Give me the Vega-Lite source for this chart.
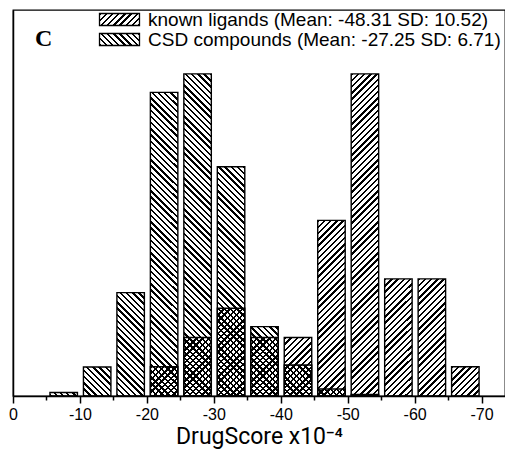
{
  "$schema": "https://vega.github.io/schema/vega-lite/v6.json",
  "autosize": {"type": "none"},
  "padding": {"left": 13, "top": 10, "right": 0, "bottom": 56},
  "width": 492,
  "height": 386,
  "params": [
    {"name": "hs", "value": [
{"offset":0,"color":"#000"},{"offset":0.00645,"color":"#000"},{"offset":0.00645,"color":"transparent"},{"offset":0.01667,"color":"transparent"},
{"offset":0.01667,"color":"#000"},{"offset":0.02312,"color":"#000"},{"offset":0.02312,"color":"transparent"},{"offset":0.03333,"color":"transparent"},
{"offset":0.03333,"color":"#000"},{"offset":0.03978,"color":"#000"},{"offset":0.03978,"color":"transparent"},{"offset":0.05,"color":"transparent"},
{"offset":0.05,"color":"#000"},{"offset":0.05645,"color":"#000"},{"offset":0.05645,"color":"transparent"},{"offset":0.06667,"color":"transparent"},
{"offset":0.06667,"color":"#000"},{"offset":0.07312,"color":"#000"},{"offset":0.07312,"color":"transparent"},{"offset":0.08333,"color":"transparent"},
{"offset":0.08333,"color":"#000"},{"offset":0.08978,"color":"#000"},{"offset":0.08978,"color":"transparent"},{"offset":0.1,"color":"transparent"},
{"offset":0.1,"color":"#000"},{"offset":0.10645,"color":"#000"},{"offset":0.10645,"color":"transparent"},{"offset":0.11667,"color":"transparent"},
{"offset":0.11667,"color":"#000"},{"offset":0.12312,"color":"#000"},{"offset":0.12312,"color":"transparent"},{"offset":0.13333,"color":"transparent"},
{"offset":0.13333,"color":"#000"},{"offset":0.13978,"color":"#000"},{"offset":0.13978,"color":"transparent"},{"offset":0.15,"color":"transparent"},
{"offset":0.15,"color":"#000"},{"offset":0.15645,"color":"#000"},{"offset":0.15645,"color":"transparent"},{"offset":0.16667,"color":"transparent"},
{"offset":0.16667,"color":"#000"},{"offset":0.17312,"color":"#000"},{"offset":0.17312,"color":"transparent"},{"offset":0.18333,"color":"transparent"},
{"offset":0.18333,"color":"#000"},{"offset":0.18978,"color":"#000"},{"offset":0.18978,"color":"transparent"},{"offset":0.2,"color":"transparent"},
{"offset":0.2,"color":"#000"},{"offset":0.20645,"color":"#000"},{"offset":0.20645,"color":"transparent"},{"offset":0.21667,"color":"transparent"},
{"offset":0.21667,"color":"#000"},{"offset":0.22312,"color":"#000"},{"offset":0.22312,"color":"transparent"},{"offset":0.23333,"color":"transparent"},
{"offset":0.23333,"color":"#000"},{"offset":0.23978,"color":"#000"},{"offset":0.23978,"color":"transparent"},{"offset":0.25,"color":"transparent"},
{"offset":0.25,"color":"#000"},{"offset":0.25645,"color":"#000"},{"offset":0.25645,"color":"transparent"},{"offset":0.26667,"color":"transparent"},
{"offset":0.26667,"color":"#000"},{"offset":0.27312,"color":"#000"},{"offset":0.27312,"color":"transparent"},{"offset":0.28333,"color":"transparent"},
{"offset":0.28333,"color":"#000"},{"offset":0.28978,"color":"#000"},{"offset":0.28978,"color":"transparent"},{"offset":0.3,"color":"transparent"},
{"offset":0.3,"color":"#000"},{"offset":0.30645,"color":"#000"},{"offset":0.30645,"color":"transparent"},{"offset":0.31667,"color":"transparent"},
{"offset":0.31667,"color":"#000"},{"offset":0.32312,"color":"#000"},{"offset":0.32312,"color":"transparent"},{"offset":0.33333,"color":"transparent"},
{"offset":0.33333,"color":"#000"},{"offset":0.33978,"color":"#000"},{"offset":0.33978,"color":"transparent"},{"offset":0.35,"color":"transparent"},
{"offset":0.35,"color":"#000"},{"offset":0.35645,"color":"#000"},{"offset":0.35645,"color":"transparent"},{"offset":0.36667,"color":"transparent"},
{"offset":0.36667,"color":"#000"},{"offset":0.37312,"color":"#000"},{"offset":0.37312,"color":"transparent"},{"offset":0.38333,"color":"transparent"},
{"offset":0.38333,"color":"#000"},{"offset":0.38978,"color":"#000"},{"offset":0.38978,"color":"transparent"},{"offset":0.4,"color":"transparent"},
{"offset":0.4,"color":"#000"},{"offset":0.40645,"color":"#000"},{"offset":0.40645,"color":"transparent"},{"offset":0.41667,"color":"transparent"},
{"offset":0.41667,"color":"#000"},{"offset":0.42312,"color":"#000"},{"offset":0.42312,"color":"transparent"},{"offset":0.43333,"color":"transparent"},
{"offset":0.43333,"color":"#000"},{"offset":0.43978,"color":"#000"},{"offset":0.43978,"color":"transparent"},{"offset":0.45,"color":"transparent"},
{"offset":0.45,"color":"#000"},{"offset":0.45645,"color":"#000"},{"offset":0.45645,"color":"transparent"},{"offset":0.46667,"color":"transparent"},
{"offset":0.46667,"color":"#000"},{"offset":0.47312,"color":"#000"},{"offset":0.47312,"color":"transparent"},{"offset":0.48333,"color":"transparent"},
{"offset":0.48333,"color":"#000"},{"offset":0.48978,"color":"#000"},{"offset":0.48978,"color":"transparent"},{"offset":0.5,"color":"transparent"},
{"offset":0.5,"color":"#000"},{"offset":0.50645,"color":"#000"},{"offset":0.50645,"color":"transparent"},{"offset":0.51667,"color":"transparent"},
{"offset":0.51667,"color":"#000"},{"offset":0.52312,"color":"#000"},{"offset":0.52312,"color":"transparent"},{"offset":0.53333,"color":"transparent"},
{"offset":0.53333,"color":"#000"},{"offset":0.53978,"color":"#000"},{"offset":0.53978,"color":"transparent"},{"offset":0.55,"color":"transparent"},
{"offset":0.55,"color":"#000"},{"offset":0.55645,"color":"#000"},{"offset":0.55645,"color":"transparent"},{"offset":0.56667,"color":"transparent"},
{"offset":0.56667,"color":"#000"},{"offset":0.57312,"color":"#000"},{"offset":0.57312,"color":"transparent"},{"offset":0.58333,"color":"transparent"},
{"offset":0.58333,"color":"#000"},{"offset":0.58978,"color":"#000"},{"offset":0.58978,"color":"transparent"},{"offset":0.6,"color":"transparent"},
{"offset":0.6,"color":"#000"},{"offset":0.60645,"color":"#000"},{"offset":0.60645,"color":"transparent"},{"offset":0.61667,"color":"transparent"},
{"offset":0.61667,"color":"#000"},{"offset":0.62312,"color":"#000"},{"offset":0.62312,"color":"transparent"},{"offset":0.63333,"color":"transparent"},
{"offset":0.63333,"color":"#000"},{"offset":0.63978,"color":"#000"},{"offset":0.63978,"color":"transparent"},{"offset":0.65,"color":"transparent"},
{"offset":0.65,"color":"#000"},{"offset":0.65645,"color":"#000"},{"offset":0.65645,"color":"transparent"},{"offset":0.66667,"color":"transparent"},
{"offset":0.66667,"color":"#000"},{"offset":0.67312,"color":"#000"},{"offset":0.67312,"color":"transparent"},{"offset":0.68333,"color":"transparent"},
{"offset":0.68333,"color":"#000"},{"offset":0.68978,"color":"#000"},{"offset":0.68978,"color":"transparent"},{"offset":0.7,"color":"transparent"},
{"offset":0.7,"color":"#000"},{"offset":0.70645,"color":"#000"},{"offset":0.70645,"color":"transparent"},{"offset":0.71667,"color":"transparent"},
{"offset":0.71667,"color":"#000"},{"offset":0.72312,"color":"#000"},{"offset":0.72312,"color":"transparent"},{"offset":0.73333,"color":"transparent"},
{"offset":0.73333,"color":"#000"},{"offset":0.73978,"color":"#000"},{"offset":0.73978,"color":"transparent"},{"offset":0.75,"color":"transparent"},
{"offset":0.75,"color":"#000"},{"offset":0.75645,"color":"#000"},{"offset":0.75645,"color":"transparent"},{"offset":0.76667,"color":"transparent"},
{"offset":0.76667,"color":"#000"},{"offset":0.77312,"color":"#000"},{"offset":0.77312,"color":"transparent"},{"offset":0.78333,"color":"transparent"},
{"offset":0.78333,"color":"#000"},{"offset":0.78978,"color":"#000"},{"offset":0.78978,"color":"transparent"},{"offset":0.8,"color":"transparent"},
{"offset":0.8,"color":"#000"},{"offset":0.80645,"color":"#000"},{"offset":0.80645,"color":"transparent"},{"offset":0.81667,"color":"transparent"},
{"offset":0.81667,"color":"#000"},{"offset":0.82312,"color":"#000"},{"offset":0.82312,"color":"transparent"},{"offset":0.83333,"color":"transparent"},
{"offset":0.83333,"color":"#000"},{"offset":0.83978,"color":"#000"},{"offset":0.83978,"color":"transparent"},{"offset":0.85,"color":"transparent"},
{"offset":0.85,"color":"#000"},{"offset":0.85645,"color":"#000"},{"offset":0.85645,"color":"transparent"},{"offset":0.86667,"color":"transparent"},
{"offset":0.86667,"color":"#000"},{"offset":0.87312,"color":"#000"},{"offset":0.87312,"color":"transparent"},{"offset":0.88333,"color":"transparent"},
{"offset":0.88333,"color":"#000"},{"offset":0.88978,"color":"#000"},{"offset":0.88978,"color":"transparent"},{"offset":0.9,"color":"transparent"},
{"offset":0.9,"color":"#000"},{"offset":0.90645,"color":"#000"},{"offset":0.90645,"color":"transparent"},{"offset":0.91667,"color":"transparent"},
{"offset":0.91667,"color":"#000"},{"offset":0.92312,"color":"#000"},{"offset":0.92312,"color":"transparent"},{"offset":0.93333,"color":"transparent"},
{"offset":0.93333,"color":"#000"},{"offset":0.93978,"color":"#000"},{"offset":0.93978,"color":"transparent"},{"offset":0.95,"color":"transparent"},
{"offset":0.95,"color":"#000"},{"offset":0.95645,"color":"#000"},{"offset":0.95645,"color":"transparent"},{"offset":0.96667,"color":"transparent"},
{"offset":0.96667,"color":"#000"},{"offset":0.97312,"color":"#000"},{"offset":0.97312,"color":"transparent"},{"offset":0.98333,"color":"transparent"},
{"offset":0.98333,"color":"#000"},{"offset":0.98978,"color":"#000"},{"offset":0.98978,"color":"transparent"},{"offset":1,"color":"transparent"}
    ]}
  ],
  "title": {"text": "C", "anchor": "start", "frame": "group", "orient": "top", "offset": 0, "dx": 22, "dy": 60, "baseline": "alphabetic", "font": "Liberation Serif", "fontWeight": "bold", "fontSize": 24, "color": "black"},
  "data": {"values": [
    {"series": "known ligands", "bin_start": -20, "bin_end": -25, "v": 2.73},
    {"series": "known ligands", "bin_start": -25, "bin_end": -30, "v": 5.46},
    {"series": "known ligands", "bin_start": -30, "bin_end": -35, "v": 8.19},
    {"series": "known ligands", "bin_start": -35, "bin_end": -40, "v": 5.46},
    {"series": "known ligands", "bin_start": -40, "bin_end": -45, "v": 5.46},
    {"series": "known ligands", "bin_start": -45, "bin_end": -50, "v": 16.38},
    {"series": "known ligands", "bin_start": -50, "bin_end": -55, "v": 30.04},
    {"series": "known ligands", "bin_start": -55, "bin_end": -60, "v": 10.92},
    {"series": "known ligands", "bin_start": -60, "bin_end": -65, "v": 10.92},
    {"series": "known ligands", "bin_start": -65, "bin_end": -70, "v": 2.73},
    {"series": "CSD compounds", "bin_start": -5, "bin_end": -10, "v": 0.33},
    {"series": "CSD compounds", "bin_start": -10, "bin_end": -15, "v": 2.70},
    {"series": "CSD compounds", "bin_start": -15, "bin_end": -20, "v": 9.64},
    {"series": "CSD compounds", "bin_start": -20, "bin_end": -25, "v": 28.32},
    {"series": "CSD compounds", "bin_start": -25, "bin_end": -30, "v": 30.04},
    {"series": "CSD compounds", "bin_start": -30, "bin_end": -35, "v": 21.38},
    {"series": "CSD compounds", "bin_start": -35, "bin_end": -40, "v": 6.47},
    {"series": "CSD compounds", "bin_start": -40, "bin_end": -45, "v": 2.89},
    {"series": "CSD compounds", "bin_start": -45, "bin_end": -50, "v": 0.65},
    {"series": "CSD compounds", "bin_start": -50, "bin_end": -55, "v": 0.14}
  ]},
  "mark": {
    "type": "bar",
    "binSpacing": 6,
    "strokeWidth": 1.4,
    "fill": {"expr": "datum.series == 'known ligands' ? {gradient: 'linear', x1: 0, y1: 0, x2: 10208/(753+pow(scale('y',0)-scale('y',datum.v),2)), y2: 372*(scale('y',0)-scale('y',datum.v))/(753+pow(scale('y',0)-scale('y',datum.v),2)), stops: hs} : {gradient: 'linear', x1: 0, y1: 1, x2: 10208/(753+pow(scale('y',0)-scale('y',datum.v),2)), y2: 1-372*(scale('y',0)-scale('y',datum.v))/(753+pow(scale('y',0)-scale('y',datum.v),2)), stops: hs}"}
  },
  "encoding": {
    "x": {
      "field": "bin_start", "type": "quantitative", "bin": "binned",
      "scale": {"domain": [0, -73.5], "nice": false, "zero": false},
      "axis": {
        "title": "DrugScore x10⁻⁴",
        "titleFont": "Roboto",
        "values": [0, -5, -10, -15, -20, -25, -30, -35, -40, -45, -50, -55, -60, -65, -70],
        "labelExpr": "datum.value % 10 == 0 ? '' + datum.value : ''",
        "tickSize": {"condition": {"test": "datum.value % 10 != 0", "value": 4}, "value": 7},
        "labelFlush": false,
        "labelOverlap": false,
        "labelPadding": 3,
        "titlePadding": 3
      }
    },
    "x2": {"field": "bin_end"},
    "y": {
      "field": "v", "type": "quantitative", "stack": null,
      "scale": {"domain": [0, 36], "nice": false},
      "axis": {"title": null, "labels": false, "ticks": false, "grid": false, "domain": true}
    },
    "stroke": {
      "field": "series", "type": "nominal",
      "scale": {"domain": ["known ligands", "CSD compounds"], "range": ["black", "black"]},
      "legend": {
        "orient": "none", "legendX": 97, "legendY": 0, "title": null, "padding": 0,
        "symbolType": "M-3.333,-1H3.333V1H-3.333Z", "symbolSize": 144, "symbolStrokeWidth": 1.3,
        "labelFont": "Liberation Sans", "labelFontSize": 19, "labelColor": "black", "labelLimit": 600, "labelOffset": 19, "rowPadding": 0,
        "labelExpr": "datum.label == 'known ligands' ? 'known ligands (Mean: -48.31 SD: 10.52)' : 'CSD compounds (Mean: -27.25 SD: 6.71)'",
        "encoding": {"symbols": {"fill": {"value": {"expr": "datum.value == 'known ligands' ? {gradient: 'linear', x1: 0, y1: 0, x2: 8.532, y2: 2.56, stops: hs} : {gradient: 'linear', x1: 0, y1: 1, x2: 8.532, y2: -1.56, stops: hs}"}}, "opacity": {"value": 1}}}
      }
    }
  },
  "config": {
    "view": {"stroke": "black", "strokeWidth": 1.3},
    "axis": {
      "grid": false,
      "domainColor": "black", "domainWidth": 1.5,
      "tickColor": "black", "tickWidth": 1.5,
      "labelFont": "Liberation Sans", "labelFontSize": 16, "labelColor": "black",
      "titleFont": "Liberation Sans", "titleFontSize": 23, "titleFontWeight": "normal", "titleColor": "black"
    }
  }
}
